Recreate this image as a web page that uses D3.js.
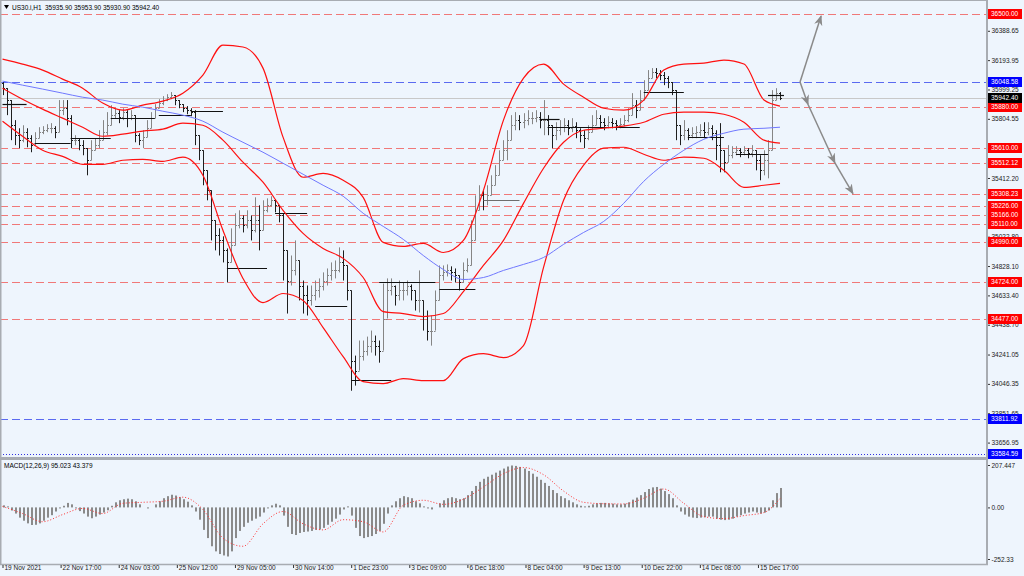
<!DOCTYPE html>
<html><head><meta charset="utf-8">
<script src="https://cdn.jsdelivr.net/npm/d3@7"></script>
<style>
html,body{margin:0;padding:0;background:#eef5fd;}
svg{display:block;font-family:"Liberation Sans",Arial,sans-serif;}
</style></head><body><svg id="c" width="1024" height="576"></svg>
<script>
// ---------- DATA ----------
const symbolTitle = "US30.i,H1";
const titleValues = ["35935.90","35953.90","35930.90","35942.40"];
const macdTitle = "MACD(12,26,9) 95.023 43.379";

// price bars (each bar = 2 H1 bars)
const closes = [36008,35929,35762,35696,35663,35716,35676,35630,35676,35716,35729,35742,35742,35716,35862,35875,35809,35663,35663,35630,
35610,35530,35596,35630,35663,35716,35762,35829,35842,35816,35849,35809,35829,35696,35663,35683,35742,35809,35875,35909,
35929,35948,35962,35929,35902,35875,35862,35849,35696,35596,35463,35330,35131,35031,34998,34932,34852,34965,35098,35144,
35098,35131,35065,35131,35065,35198,35231,35264,35231,35164,34932,34732,34799,34865,34699,34633,34600,34633,34666,34699,
34732,34766,34799,34799,34852,34832,34666,34201,34134,34234,34267,34300,34334,34300,34267,34480,34666,34699,34633,34666,
34666,34699,34666,34600,34600,34500,34400,34400,34600,34766,34786,34799,34786,34766,34719,34799,34832,34998,35198,35297,
35264,35297,35364,35430,35530,35596,35663,35762,35796,35782,35796,35809,35809,35816,35796,35796,35762,35696,35729,35749,
35762,35742,35756,35729,35696,35676,35716,35762,35809,35782,35762,35782,35776,35762,35769,35796,35829,35895,35862,35929,
35995,36075,36115,36108,36095,36075,36048,35995,35762,35696,35729,35696,35709,35716,35729,35716,35742,35709,35630,35596,
35517,35563,35583,35596,35583,35596,35576,35596,35530,35463,35530,35596,35929,35975,35942];
const highs = [36048,35995,35862,35796,35742,35762,35742,35696,35716,35749,35756,35769,35776,35756,35929,35929,35929,35829,35696,35676,
35663,35596,35663,35676,35729,35796,35849,35895,35875,35862,35875,35862,35862,35829,35709,35729,35796,35849,35902,35935,
35955,35968,35982,35955,35929,35902,35889,35875,35862,35676,35596,35450,35330,35118,35078,35025,34945,35078,35178,35198,
35164,35198,35164,35284,35231,35264,35277,35291,35271,35231,35178,34879,34898,34998,34812,34732,34699,34699,34732,34746,
34786,34812,34852,34865,34952,34932,34799,34600,34234,34334,34334,34360,34400,34367,34334,34712,34746,34746,34699,34732,
34719,34732,34706,34666,34799,34600,34533,34500,34666,34832,34832,34839,34826,34812,34766,34852,34879,35131,35297,35364,
35330,35364,35430,35497,35596,35663,35729,35829,35849,35829,35842,35862,35849,35862,35849,35929,35829,35762,35782,35796,
35809,35796,35809,35782,35742,35729,35762,35829,35862,35829,35809,35822,35809,35796,35809,35829,35875,35975,35929,35995,
36061,36128,36141,36141,36128,36115,36088,36048,35995,35762,35796,35742,35749,35756,35769,35782,35782,35762,35729,35776,
35596,35630,35623,35623,35610,35623,35610,35630,35596,35563,35596,35663,35995,36008,35982];
const lows = [35962,35829,35663,35630,35610,35649,35616,35583,35630,35676,35703,35716,35709,35676,35796,35829,35762,35610,35630,35596,
35563,35430,35543,35596,35610,35663,35696,35796,35809,35776,35796,35749,35796,35649,35630,35610,35696,35762,35835,35875,
35895,35922,35935,35895,35875,35849,35835,35822,35630,35530,35364,35264,34998,34932,34898,34852,34719,34879,35031,35078,
35051,35078,34998,35051,34932,35144,35184,35224,35184,35118,34732,34513,34699,34766,34600,34513,34500,34566,34600,34619,
34666,34699,34732,34746,34786,34732,34600,34001,34035,34168,34201,34234,34254,34234,34187,34334,34600,34633,34566,34600,
34600,34633,34600,34533,34520,34400,34334,34300,34467,34666,34732,34759,34732,34719,34666,34732,34786,34832,35098,35231,
35198,35231,35297,35364,35463,35530,35530,35696,35729,35729,35742,35762,35769,35782,35742,35696,35696,35610,35663,35696,
35716,35696,35716,35676,35649,35610,35663,35716,35762,35742,35729,35742,35742,35729,35742,35756,35782,35829,35809,35862,
35929,36028,36075,36075,36061,36028,36008,35962,35663,35630,35663,35663,35676,35676,35689,35676,35696,35663,35530,35450,
35450,35517,35543,35563,35550,35563,35543,35550,35463,35397,35430,35410,35596,35929,35929];
const firstOpen = 36040;

// indicator samples (bar indices)
const bandBars = [0,5,10,15,20,25,30,35,40,45,50,55,60,65,70,75,80,85,90,95,100,105,110,115,120,125,130,135,140,145,150,155,160,165,170,175,180,185,190,194];
const bbUpper = [36201,36168,36128,36068,36008,35909,35862,35895,35922,35975,36095,36294,36281,36141,35683,35417,35443,35397,35284,34985,
34958,34978,34918,34998,35330,35796,36075,36168,36035,35948,35875,35862,35929,36128,36168,36174,36194,36168,35929,35889];
const bbMiddle = [36008,35935,35869,35809,35749,35689,35703,35723,35736,35776,35762,35663,35517,35384,35198,35045,34945,34879,34752,34526,
34513,34493,34513,34659,34832,34998,35244,35477,35649,35729,35742,35756,35782,35835,35849,35849,35835,35782,35663,35643];
const bbLower = [35789,35689,35596,35556,35503,35503,35530,35536,35523,35550,35430,35065,34746,34586,34646,34600,34420,34227,34061,34048,
34081,34068,34068,34214,34247,34221,34300,34819,35264,35497,35610,35616,35570,35530,35550,35543,35463,35350,35364,35377];
const maBlue = [36055,36028,36002,35975,35948,35929,35902,35882,35855,35829,35789,35716,35649,35583,35510,35437,35364,35291,35178,35091,
35005,34898,34805,34739,34752,34799,34839,34885,34972,35051,35124,35244,35390,35503,35596,35669,35709,35736,35742,35749];

// step (support/resistance) segments
const stepStart = [0,8,17,27,39,47,56,68,78,87,94,109,120,134,136,160,171,183,191];
const stepEnd   = [6,17,27,38,47,55,66,76,86,97,108,118,129,139,159,170,180,191,195];
const stepPrice = [35902,35643,35676,35809,35829,35855,34812,35178,34560,34075,34719,34679,35264,35802,35749,35982,35683,35570,35962];
const stepGray  = [0,0,0,0,0,0,0,0,0,0,0,0,1,0,0,0,0,0,0];

// horizontal levels
const redLevels = [36500,35880,35610,35512.12,35308.23,35226,35166,35110,34990,34724,34477];
const blueLevels = [36048.58,33811.92];
const dottedLevel = 33584.59;
const bidPrice = 35942.40;
const priceTicks = [36388.65,36193.95,35999.25,35804.55,35412.20,35022.80,34828.10,34633.40,34438.70,34241.05,34046.35,33851.65,33656.95];

// projection arrows (H1 index, price)
const projUpH = [398,408.5], projUpP = [36048.58,36487];
const projDnH = [398,402,415.4,424.4], projDnP = [36048.58,35900,35512,35308];

// MACD
const macdHist = [10,5,-15,-30,-50,-65,-78,-86,-85,-78,-65,-50,-38,-20,-5,8,22,15,-5,-18,
-30,-45,-53,-45,-35,-25,-14,8,25,35,40,43,40,30,15,0,-5,0,15,30,
45,55,62,58,50,40,28,10,-20,-60,-110,-150,-190,-215,-228,-235,-240,-215,-150,-115,
-95,-75,-65,-55,-45,-25,-5,10,18,10,-40,-95,-130,-135,-125,-120,-118,-115,-110,-108,
-100,-85,-70,-55,-35,-10,5,-40,-100,-140,-150,-145,-140,-130,-115,-80,-30,10,30,45,
55,50,45,30,20,5,-5,-10,0,20,35,45,50,45,40,45,60,80,105,125,
140,150,160,170,180,190,200,205,203,198,190,178,165,150,135,120,105,85,70,55,
45,35,25,15,8,5,8,15,20,22,22,20,18,15,15,18,25,38,48,60,
75,90,98,100,92,80,65,45,10,-20,-35,-45,-50,-52,-50,-48,-45,-45,-55,-60,
-62,-60,-55,-45,-38,-30,-25,-20,-25,-30,-25,-15,35,70,95];
const macdSignal = [5,-30,-70,-35,-5,-30,20,25,30,50,-10,-150,-190,-80,-20,-80,-110,-60,-70,-120,
10,35,15,40,100,165,195,160,80,25,18,17,45,90,20,-45,-55,-40,-25,43];
const macdTicks = [207.447,0,-252.33];
const macdTickLabels = ["207.447","0.00","-252.33"];

// time axis
const timeTickH = [0,29,58,87,116,145,174,203,232,261,290,319,348,377];
const timeLabels = ["19 Nov 2021","22 Nov 17:00","24 Nov 03:00","25 Nov 12:00","29 Nov 05:00","30 Nov 14:00","1 Dec 23:00","3 Dec 09:00","6 Dec 18:00","8 Dec 04:00","9 Dec 13:00","10 Dec 22:00","14 Dec 08:00","15 Dec 17:00"];

// ---------- DRAW ----------
const FS = 6.5;
const svg = d3.select("#c");
const plotR = 986, mainBot = 457, macdTop = 460, macdBot = 564;
const x = d3.scaleLinear().domain([0,388]).range([2.5,780]);
const xb = i => x(2*i);
const y = d3.scaleLinear().domain([33584.59,36500]).range([453.5,14]);
const ym = d3.scaleLinear().domain([-252.33,207.447]).range([559,465]);

svg.append("rect").attr("width",1024).attr("height",576).attr("fill","#eef5fd");
const defs = svg.append("defs");
defs.append("clipPath").attr("id","cm").append("rect").attr("x",0).attr("y",0).attr("width",plotR).attr("height",mainBot);
defs.append("clipPath").attr("id","cd").append("rect").attr("x",0).attr("y",macdTop).attr("width",plotR).attr("height",macdBot-macdTop);
defs.append("marker").attr("id","arr").attr("viewBox","0 0 10 10").attr("refX",9).attr("refY",5)
  .attr("markerWidth",7).attr("markerHeight",7).attr("orient","auto")
  .append("path").attr("d","M0,1 L10,5 L0,9 L3,5 z").attr("fill","#8a8a8a");

const main = svg.append("g").attr("clip-path","url(#cm)");

// levels
main.selectAll(".rl").data(redLevels).join("line")
  .attr("x1",0).attr("x2",plotR).attr("y1",d=>Math.round(y(d))+0.5).attr("y2",d=>Math.round(y(d))+0.5)
  .attr("stroke","#f07878").attr("stroke-width",1).attr("stroke-dasharray","8,4");
main.selectAll(".bl").data(blueLevels).join("line")
  .attr("x1",0).attr("x2",plotR).attr("y1",d=>Math.round(y(d))+0.5).attr("y2",d=>Math.round(y(d))+0.5)
  .attr("stroke","#5a6af0").attr("stroke-width",1).attr("stroke-dasharray","8,4");
main.append("line").attr("x1",0).attr("x2",plotR).attr("y1",Math.round(y(dottedLevel))+0.5).attr("y2",Math.round(y(dottedLevel))+0.5)
  .attr("stroke","#3030e0").attr("stroke-dasharray","1,2");
main.append("line").attr("x1",0).attr("x2",plotR).attr("y1",Math.round(y(bidPrice))+0.5).attr("y2",Math.round(y(bidPrice))+0.5)
  .attr("stroke","#c8c8c8");

// bars
const bars = closes.map((c,i)=>{
  const o = i===0 ? firstOpen : closes[i-1];
  return {i, o, c, h: Math.max(highs[i],o,c), l: Math.min(lows[i],o,c)};
});
const bg = main.append("g");
bars.forEach(b=>{
  const col = b.c < b.o ? "#1e1e1e" : "#858585";
  const cx = Math.round(xb(b.i))+0.5;
  bg.append("line").attr("x1",cx).attr("x2",cx).attr("y1",y(b.h)).attr("y2",y(b.l)).attr("stroke",col);
  bg.append("line").attr("x1",cx-1.5).attr("x2",cx).attr("y1",Math.round(y(b.o))+0.5).attr("y2",Math.round(y(b.o))+0.5).attr("stroke",col);
  bg.append("line").attr("x1",cx).attr("x2",cx+1.5).attr("y1",Math.round(y(b.c))+0.5).attr("y2",Math.round(y(b.c))+0.5).attr("stroke",col);
});

// step segments
main.selectAll(".st").data(stepPrice).join("line")
  .attr("x1",(d,k)=>xb(stepStart[k])).attr("x2",(d,k)=>xb(stepEnd[k]))
  .attr("y1",d=>Math.round(y(d))+0.5).attr("y2",d=>Math.round(y(d))+0.5)
  .attr("stroke",(d,k)=>stepGray[k]?"#6e6e6e":"#111").attr("stroke-width",1.2);

// bands
const lineGen = arr => d3.line().curve(d3.curveMonotoneX).x((d,k)=>xb(bandBars[k])).y(d=>y(d))(arr);
[bbUpper,bbMiddle,bbLower].forEach(a=>{
  main.append("path").attr("d",lineGen(a)).attr("fill","none").attr("stroke","#ff1010").attr("stroke-width",1.2);
});
main.append("path").attr("d",lineGen(maBlue)).attr("fill","none").attr("stroke","#7078ff").attr("stroke-width",1);

// projection arrows
main.append("line").attr("x1",x(projUpH[0])).attr("y1",y(projUpP[0])).attr("x2",x(projUpH[1])).attr("y2",y(projUpP[1]))
  .attr("stroke","#8a8a8a").attr("stroke-width",1.5).attr("marker-end","url(#arr)");
for(let k=0;k<projDnH.length-1;k++){
  main.append("line").attr("x1",x(projDnH[k])).attr("y1",y(projDnP[k])).attr("x2",x(projDnH[k+1])).attr("y2",y(projDnP[k+1]))
    .attr("stroke","#8a8a8a").attr("stroke-width",1.5).attr("marker-end","url(#arr)");
}

// MACD
const md = svg.append("g").attr("clip-path","url(#cd)");
md.selectAll("rect").data(macdHist).join("rect")
  .attr("x",(d,i)=>Math.round(xb(i))).attr("width",2)
  .attr("y",d=>Math.min(ym(d),ym(0))).attr("height",d=>Math.abs(ym(d)-ym(0)))
  .attr("fill","#8a8a8a");
md.append("path").attr("d",d3.line().curve(d3.curveMonotoneX).x((d,k)=>xb(bandBars[k])).y(d=>ym(d))(macdSignal))
  .attr("fill","none").attr("stroke","#ff3030").attr("stroke-width",1).attr("stroke-dasharray","1,2");

// frames
const frame = "#a8acb2";
svg.append("line").attr("x1",0.5).attr("x2",0.5).attr("y1",0).attr("y2",macdBot).attr("stroke",frame).attr("stroke-width",2);
svg.append("line").attr("x1",0).attr("x2",plotR).attr("y1",0.5).attr("y2",0.5).attr("stroke",frame);
svg.append("line").attr("x1",plotR+1).attr("x2",plotR+1).attr("y1",0).attr("y2",macdBot).attr("stroke",frame).attr("stroke-width",2);
svg.append("line").attr("x1",0).attr("x2",plotR+2).attr("y1",458.5).attr("y2",458.5).attr("stroke",frame).attr("stroke-width",3);
svg.append("line").attr("x1",0).attr("x2",plotR+2).attr("y1",macdBot+0.5).attr("y2",macdBot+0.5).attr("stroke",frame).attr("stroke-width",1.5);

// right axis price ticks
const ax = svg.append("g").attr("transform",`translate(${plotR+2},0)`)
  .call(d3.axisRight(y).tickValues(priceTicks).tickFormat(d=>d.toFixed(2)).tickSize(2).tickPadding(1.5));
ax.select(".domain").remove();
ax.selectAll("text").attr("font-size",FS).attr("fill","#222").attr("font-family","Liberation Sans, Arial");
ax.selectAll("line").attr("stroke","#333");

// level labels
function levelLabel(v, bgc, fg){
  const g = svg.append("g").attr("transform",`translate(${plotR+2},${Math.round(y(v))})`);
  g.append("rect").attr("x",0).attr("y",-5).attr("width",34).attr("height",10).attr("fill",bgc);
  g.append("text").attr("x",3).attr("y",0).attr("dy","0.35em").attr("font-size",FS).attr("fill",fg).text(v.toFixed(2));
}
redLevels.forEach(v=>levelLabel(v,"#ff0000","#fff"));
blueLevels.forEach(v=>levelLabel(v,"#0000ff","#fff"));
levelLabel(dottedLevel,"#0000ff","#fff");
levelLabel(bidPrice,"#000","#fff");

// MACD axis
const am = svg.append("g").attr("transform",`translate(${plotR+2},0)`)
  .call(d3.axisRight(ym).tickValues(macdTicks).tickFormat((d,k)=>macdTickLabels[k]).tickSize(2).tickPadding(1.5));
am.select(".domain").remove();
am.selectAll("text").attr("font-size",FS).attr("fill","#222");
am.selectAll("line").attr("stroke","#333");

// time axis
const at = svg.append("g").attr("transform",`translate(0,${macdBot+1})`)
  .call(d3.axisBottom(x).tickValues(timeTickH).tickFormat((d,k)=>timeLabels[k]).tickSize(3).tickPadding(1));
at.select(".domain").remove();
at.selectAll("text").attr("font-size",FS).attr("fill","#222").attr("text-anchor","start").attr("dx","1.5").attr("dy","0.2em");
at.selectAll("line").attr("stroke","#333");

// titles
svg.append("path").attr("d","M4,5 L9,5 L6.5,9 z").attr("fill","#000");
svg.append("text").attr("x",12).attr("y",9.5).attr("font-size",FS).attr("fill","#000").text(symbolTitle);
svg.selectAll(".tv").data(titleValues).join("text").attr("x",(d,k)=>45+k*29).attr("y",9.5).attr("font-size",FS).attr("fill","#000").text(d=>d);
svg.append("text").attr("x",4).attr("y",467.5).attr("font-size",FS).attr("fill","#000").text(macdTitle);
</script></body></html>
